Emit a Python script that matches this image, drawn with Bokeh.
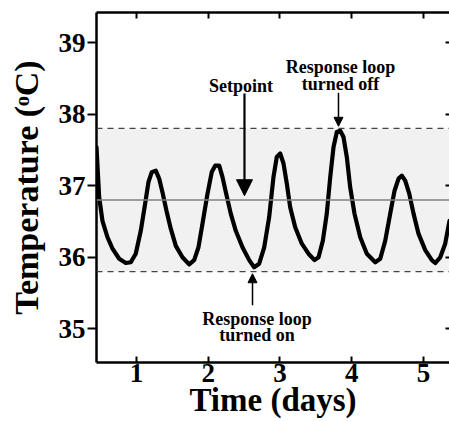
from bokeh.plotting import figure
from bokeh.models import (LinearAxis, Range1d, BoxAnnotation, Span, Label,
                          Arrow, NormalHead, FixedTicker, ColumnDataSource)
from bokeh.embed import file_html
from bokeh.resources import INLINE

# ---- data ----
days = [0.443, 0.48, 0.526, 0.596, 0.666, 0.759, 0.851, 0.921, 0.99, 1.06,
        1.121, 1.167, 1.213, 1.269, 1.316, 1.362, 1.418, 1.478, 1.548, 1.641,
        1.734, 1.804, 1.864, 1.92, 1.99, 2.049, 2.097, 2.153, 2.199, 2.245,
        2.314, 2.384, 2.477, 2.571, 2.64, 2.71, 2.78, 2.849, 2.909, 2.955,
        3.003, 3.049, 3.095, 3.142, 3.212, 3.304, 3.397, 3.481, 3.537, 3.597,
        3.652, 3.70, 3.746, 3.792, 3.839, 3.885, 3.931, 3.978, 4.038, 4.118,
        4.21, 4.327, 4.397, 4.466, 4.536, 4.596, 4.652, 4.698, 4.745, 4.801,
        4.861, 4.93, 5.024, 5.116, 5.163, 5.233, 5.302, 5.362]
temps = [37.54, 36.84, 36.51, 36.28, 36.12, 35.98, 35.92, 35.93, 36.05, 36.37,
         36.75, 37.05, 37.19, 37.21, 37.10, 36.91, 36.65, 36.40, 36.16, 36.00,
         35.90, 35.96, 36.14, 36.47, 36.89, 37.19, 37.28, 37.28, 37.12, 36.91,
         36.61, 36.37, 36.14, 35.96, 35.86, 35.91, 36.14, 36.56, 37.12, 37.40,
         37.45, 37.31, 37.03, 36.70, 36.42, 36.19, 36.05, 35.96, 36.00, 36.23,
         36.61, 37.12, 37.54, 37.75, 37.77, 37.68, 37.40, 36.98, 36.61, 36.28,
         36.05, 35.93, 35.98, 36.23, 36.61, 36.93, 37.10, 37.14, 37.07, 36.89,
         36.61, 36.33, 36.10, 35.96, 35.92, 36.00, 36.19, 36.51]
setpoint = 36.8
band_low = 35.8
band_high = 37.8
x_ticks = [1, 2, 3, 4, 5]
y_ticks = [35, 36, 37, 38, 39]

FONT = "Liberation Serif"
X0, X1 = 0.443, 5.362
Y0, Y1 = 34.53, 39.42

p = figure(width=449, height=421,
           x_range=Range1d(X0, X1), y_range=Range1d(Y0, Y1),
           output_backend="svg", toolbar_location=None,
           min_border_left=96, min_border_right=0,
           min_border_top=12, min_border_bottom=59)
p.outline_line_color = None
p.xgrid.visible = False
p.ygrid.visible = False
p.background_fill_color = "white"
p.border_fill_color = "white"

# band, limits and setpoint
p.add_layout(BoxAnnotation(bottom=band_low, top=band_high, fill_color="#f1f1f1",
                           fill_alpha=1.0, line_color=None, level="underlay"))
for v in (band_low, band_high):
    p.add_layout(Span(location=v, dimension="width", line_color="#444444",
                      line_width=1.2, line_dash="6 5"))
p.add_layout(Span(location=setpoint, dimension="width", line_color="#808080",
                  line_width=1.6))

src = ColumnDataSource(dict(x=days, y=temps))
p.line("x", "y", source=src, line_color="black", line_width=4.2,
       line_join="round", line_cap="round")

# axes styling
def style_common(ax):
    ax.axis_line_width = 2.5
    ax.axis_line_color = "black"
    ax.major_tick_line_width = 2
    ax.major_tick_line_color = "black"
    ax.minor_tick_line_color = None
    ax.major_label_text_font = FONT
    ax.major_label_text_font_style = "bold"
    ax.major_label_text_font_size = "27px"
    ax.major_label_text_color = "black"
    ax.axis_label_text_font = FONT
    ax.axis_label_text_font_style = "bold"
    ax.axis_label_text_color = "black"

xa = p.xaxis[0]
style_common(xa)
xa.ticker = FixedTicker(ticks=x_ticks)
xa.major_tick_in = 6
xa.major_tick_out = 0
xa.major_label_standoff = 1
xa.axis_label = "Time (days)"
xa.axis_label_text_font_size = "33px"
xa.axis_label_standoff = -3

ya = p.yaxis[0]
style_common(ya)
ya.ticker = FixedTicker(ticks=y_ticks)
ya.major_tick_in = 0
ya.major_tick_out = 9
ya.major_label_standoff = 2
ya.axis_label = "Temperature (\u1d52C)"
ya.axis_label_text_font_size = "34px"
ya.axis_label_standoff = 11

# top and right: tick marks only (minor ticks carry no labels)
top = LinearAxis(ticker=FixedTicker(ticks=[], minor_ticks=x_ticks))
style_common(top)
top.minor_tick_line_color = "black"
top.minor_tick_line_width = 2
top.minor_tick_in = 6
top.minor_tick_out = 0
p.add_layout(top, "above")

right = LinearAxis(ticker=FixedTicker(ticks=[], minor_ticks=y_ticks))
style_common(right)
right.axis_line_color = None
right.minor_tick_line_color = "black"
right.minor_tick_line_width = 2
right.minor_tick_in = 4
right.minor_tick_out = 0
p.add_layout(right, "right")

# annotations
def lab(x, y, text):
    p.add_layout(Label(x=x, y=y, text=text, text_font=FONT, text_font_style="bold",
                       text_font_size="18px", text_align="center",
                       text_baseline="alphabetic", text_color="black"))

lab(2.456, 38.40, "Setpoint")
lab(3.843, 38.655, "Response loop")
lab(3.843, 38.427, "turned off")
lab(2.679, 35.131, "Response loop")
lab(2.679, 34.918, "turned on")

p.add_layout(Arrow(end=NormalHead(size=16, fill_color="black", line_color="black"),
                   x_start=2.505, y_start=38.29, x_end=2.505, y_end=36.86,
                   line_width=2.2, line_color="black"))
p.add_layout(Arrow(end=NormalHead(size=9, fill_color="black", line_color="black"),
                   x_start=3.815, y_start=38.30, x_end=3.815, y_end=37.83,
                   line_width=1.5, line_color="black"))
p.add_layout(Arrow(end=NormalHead(size=9, fill_color="black", line_color="black"),
                   x_start=2.617, y_start=35.33, x_end=2.617, y_end=35.77,
                   line_width=1.5, line_color="black"))

open("out.html", "w").write(file_html(p, INLINE))
